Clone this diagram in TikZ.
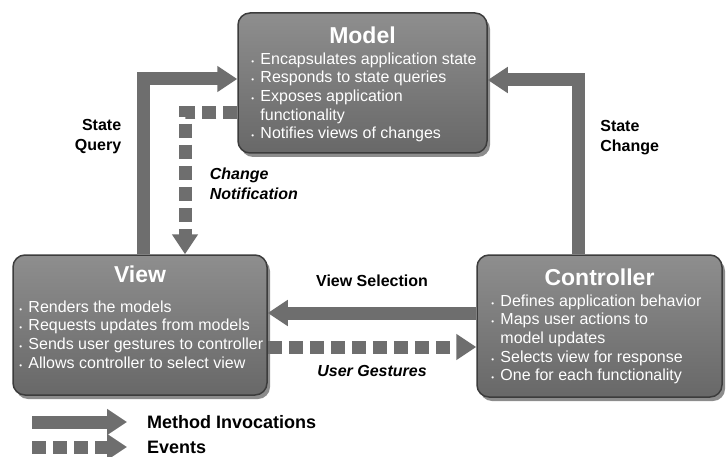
\documentclass[tikz,border=0pt]{standalone}
\usepackage{fontspec}
\setmainfont{Liberation Sans}
\usetikzlibrary{positioning, arrows.meta, shadows}

\definecolor{boxtop}{HTML}{8E8E8E}
\definecolor{boxbot}{HTML}{686868}
\definecolor{boxline}{HTML}{3C3C3C}
\definecolor{arrowgray}{HTML}{6E6E6E}

\newcommand{\bul}{\makebox[9pt][l]{\footnotesize\textbullet}}
\newcommand{\cont}{\hspace*{9pt}}

\begin{document}
\begin{tikzpicture}[x=1pt, y=-1pt,
    box/.style={rectangle, rounded corners=12pt, draw=boxline, line width=1.5pt,
        top color=boxtop, bottom color=boxbot,
        drop shadow={shadow xshift=3pt, shadow yshift=-4pt, fill=black, opacity=0.45}},
    ttl/.style={text=white, font=\fontsize{23}{27}\selectfont\bfseries, inner sep=0pt},
    lst/.style={text=white, font=\fontsize{16}{18.7}\selectfont, align=left, inner sep=0pt, anchor=north west},
    lbl/.style={font=\fontsize{16}{20}\selectfont\bfseries},
    evlbl/.style={font=\fontsize{16}{20}\selectfont\bfseries\itshape},
    leg/.style={font=\fontsize{18}{22}\selectfont\bfseries, anchor=west, inner sep=1pt},
    method/.style={draw=arrowgray, line width=13pt, line join=miter, -{Triangle[width=25pt, length=20pt]}},
    event/.style={method, dash pattern=on 14pt off 7pt}]
    \useasboundingbox (0,0) rectangle (727,457);

    % Define boxes
    \node[box, minimum width=249pt, minimum height=140pt] (model) at (362.5,83) {};
    \node[box, minimum width=254pt, minimum height=140pt] (view) at (140,325) {};
    \node[box, minimum width=245pt, minimum height=142pt] (ctrl) at (599.5,326) {};

    % Define box texts
    \node[ttl] (model-t) at ([yshift=-23pt]model.north) {Model};
    \node[lst] (model-l) at ([xshift=14pt, yshift=-40pt]model.north west)
        {\bul Encapsulates application state\\ \bul Responds to state queries\\
         \bul Exposes application\\ \cont functionality\\ \bul Notifies views of changes};
    \node[ttl] (view-t) at ([yshift=-20pt]view.north) {View};
    \node[lst] (view-l) at ([xshift=7pt, yshift=-46pt]view.north west)
        {\bul Renders the models\\ \bul Requests updates from models\\
         \bul Sends user gestures to controller\\ \bul Allows controller to select view};
    \node[ttl] (ctrl-t) at ([yshift=-23pt]ctrl.north) {Controller};
    \node[lst] (ctrl-l) at ([xshift=15pt, yshift=-40pt]ctrl.north west)
        {\bul Defines application behavior\\ \bul Maps user actions to\\
         \cont model updates\\ \bul Selects view for response\\ \bul One for each functionality};

    % Define connectors
    \draw[method] ([xshift=3pt]view.north) |- ([yshift=4pt]model.west)
        node[pos=0.335, left=12pt, lbl, align=right] {State\\Query};
    \draw[method] ([xshift=-21pt]ctrl.north) |- ([yshift=3pt]model.east)
        node[pos=0.335, right=12pt, lbl, align=left] {State\\Change};
    \draw[event] ([yshift=-30pt]model.west) -| ([xshift=45pt]view.north)
        node[pos=0.75, right=15pt, evlbl, align=left] {Change\\Notification};

    \coordinate (vs) at ([yshift=13pt]ctrl.west);
    \coordinate (ug) at ([yshift=-21pt]ctrl.west);
    \draw[method] (vs) -- (vs -| view.east)
        node[midway, above=17pt, lbl] {View Selection};
    \draw[event] (ug -| view.east) -- (ug)
        node[midway, below=8pt, evlbl] {User Gestures};

    % Legend
    \coordinate (mi-a) at (32,422);
    \coordinate (mi-b) at (127,422);
    \coordinate (ev-a) at (32,447);
    \coordinate (ev-b) at (127,447);
    \draw[method] (mi-a) -- (mi-b);
    \draw[event] (ev-a) -- (ev-b);
    \node[leg] (mi-t) at ([xshift=19pt]mi-b) {Method Invocations};
    \node[leg] (ev-t) at ([xshift=19pt]ev-b) {Events};
\end{tikzpicture}
\end{document}
